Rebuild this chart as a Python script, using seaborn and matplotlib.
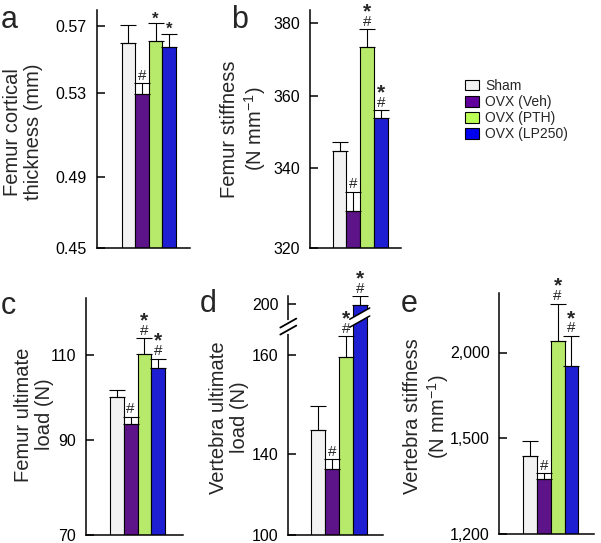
import numpy as np
import pandas as pd
import matplotlib
matplotlib.use("Agg")
import matplotlib.pyplot as plt
from matplotlib.patches import Patch, Polygon
from matplotlib.lines import Line2D
import seaborn as sns

# ---- data ----
groups = ["Sham", "OVX (Veh)", "OVX (PTH)", "OVX (LP250)"]
colors = ["#f2f2f2", "#62009d", "#bbff55", "#0000f0"]

cort_mean = [0.5597, 0.5297, 0.5609, 0.5577]
cort_sd = [0.0107, 0.0063, 0.0107, 0.0076]
fstiff_mean = [344.9, 329.3, 373.6, 353.8]
fstiff_sd = [2.5, 4.9, 4.7, 2.3]
fload_mean = [100.1, 93.8, 110.3, 107.0]
fload_sd = [1.6, 1.6, 3.6, 2.1]
vload_mean = [144.9, 132.9, 159.6, 198.7]
vload_sd = [4.7, 4.6, 14.7, 6.8]
vstiff_mean = [1443, 1370, 2065, 1918]
vstiff_sd = [47, 18, 223, 180]

hash_marks = {
    "a": [False, True, False, False],
    "b": [False, True, True, True],
    "c": [False, True, True, True],
    "d": [False, True, True, True],
    "e": [False, True, True, True],
}
star_marks = {
    "a": [False, False, True, True],
    "b": [False, False, True, True],
    "c": [False, False, True, True],
    "d": [False, False, True, True],
    "e": [False, False, True, True],
}

ticks_a = [0.45, 0.49, 0.53, 0.57]
ticks_b = [320, 340, 360, 380]
ticks_c = [70, 90, 110]
ticks_d = [100, 140, 160, 200]
ticks_e = [1200, 1500, 2000]

W, H = 601, 543
ROW2 = -2.5  # lift the bottom row a little so its lowest tick labels stay inside

sns.set_theme(style="ticks")
plt.rcParams["font.family"] = ["Liberation Sans", "DejaVu Sans"]
plt.rcParams["mathtext.fontset"] = "custom"
plt.rcParams["mathtext.rm"] = "Liberation Sans"

fig = plt.figure(figsize=(W / 100, H / 100), dpi=100)


def piecewise(vals, pos):
    # the original axes are not evenly spaced between ticks
    vals = np.asarray(vals, float)
    pos = np.asarray(pos, float)
    s0 = (pos[1] - pos[0]) / (vals[1] - vals[0])
    s1 = (pos[-1] - pos[-2]) / (vals[-1] - vals[-2])

    def fwd(v):
        v = np.asarray(v, float)
        return np.where(v < vals[0], pos[0] + (v - vals[0]) * s0,
                        np.where(v > vals[-1], pos[-1] + (v - vals[-1]) * s1,
                                 np.interp(v, vals, pos)))

    def inv(p):
        p = np.asarray(p, float)
        return np.where(p < pos[0], vals[0] + (p - pos[0]) / s0,
                        np.where(p > pos[-1], vals[-1] + (p - pos[-1]) / s1,
                                 np.interp(p, pos, vals)))
    return fwd, inv


def panel(letter, mean, sd, ticks, ticklabels, tick_px, box, bars_px, ylabel,
          label_px, letter_px, star_size=15, shift=0.0):
    L, R, T, B = box
    T, B = T + shift, B + shift
    tick_px = [p + shift for p in tick_px]
    label_px = (label_px[0], label_px[1] + shift)
    letter_px = (letter_px[0], letter_px[1] + shift)

    ax = fig.add_axes([L / W, 1 - B / H, (R - L) / W, (B - T) / H])
    fwd, inv = piecewise(ticks, [B - p for p in tick_px])
    ax.set_yscale("function", functions=(fwd, inv))

    df = pd.DataFrame({"group": groups, "value": mean})
    sns.barplot(data=df, x="group", y="value", hue="group", palette=colors,
                width=1.0, edgecolor="black", linewidth=0.8, errorbar=None,
                legend=False, ax=ax)
    x = np.arange(len(groups))
    ax.errorbar(x, mean, yerr=[np.zeros(len(sd)), sd], fmt="none",
                ecolor="black", elinewidth=0.8, capsize=6, capthick=0.8)

    bw = (bars_px[1] - bars_px[0]) / len(groups)
    ax.set_xlim(-0.5 - (bars_px[0] - L) / bw, len(groups) - 0.5 + (R - bars_px[1]) / bw)
    ax.set_ylim(ticks[0], float(inv(B - T)))
    ax.set_yticks(ticks)
    ax.set_yticklabels(ticklabels)
    ax.set_xticks([])
    ax.set_xlabel("")
    ax.set_ylabel(ylabel, fontsize=14.5, linespacing=1.15)
    ax.yaxis.set_label_coords((label_px[0] - L) / (R - L), (B - label_px[1]) / (B - T))
    ax.tick_params(axis="y", direction="in", length=6, width=1.1,
                   labelsize=11.5, pad=7, colors="black")
    for s in ["top", "right"]:
        ax.spines[s].set_visible(False)
    for s in ["left", "bottom"]:
        ax.spines[s].set_linewidth(1.1)
        ax.spines[s].set_color("black")

    for i in range(len(groups)):
        top = mean[i] + sd[i]
        if hash_marks[letter][i]:
            ax.annotate("#", (x[i], top), xytext=(0, 2.5), textcoords="offset points",
                        ha="center", va="baseline", fontsize=11)
        if star_marks[letter][i]:
            off = 8.5 if hash_marks[letter][i] else 0
            ax.annotate("*", (x[i], top), xytext=(0, off), textcoords="offset points",
                        ha="center", va="baseline", fontsize=star_size,
                        fontweight="bold")
    fig.text(letter_px[0] / W, 1 - letter_px[1] / H, letter, fontsize=22,
             ha="left", va="baseline")
    return ax


panel("a", cort_mean, cort_sd, ticks_a, ["0.45", "0.49", "0.53", "0.57"],
      [248, 177, 93.3, 26], (96.7, 190, 10, 248), (121.7, 176),
      "Femur cortical\nthickness (mm)", (43, 132), (1, 28), star_size=12)
panel("b", fstiff_mean, fstiff_sd, ticks_b, [str(t) for t in ticks_b],
      [248.3, 168.3, 96, 23.3], (310, 401, 10, 248.3), (332.7, 387.7),
      "Femur stiffness\n(N mm$^{-1}$)", (268, 129), (231, 28))
panel("c", fload_mean, fload_sd, ticks_c, [str(t) for t in ticks_c],
      [537.7, 442.3, 357.3], (86, 183, 300, 537.7), (110, 165),
      "Femur ultimate\nload (N)", (54, 417), (1, 317), shift=ROW2)
ax_d = panel("d", vload_mean, vload_sd, ticks_d, [str(t) for t in ticks_d],
             [537.7, 456.7, 357.3, 306], (288.3, 383, 298, 537.7), (311, 366.7),
             "Vertebra ultimate\nload (N)", (249, 420), (200, 315), shift=ROW2)
panel("e", vstiff_mean, vstiff_sd, ticks_e, ["{:,}".format(t) for t in ticks_e],
      [536, 440, 355], (499.3, 594, 295, 536), (523.3, 578.3),
      "Vertebra stiffness\n(N mm$^{-1}$)", (451, 419), (401, 315), shift=ROW2)

# axis break marks on panel d (spine and the tall LP250 bar)
axis_break, bar_break = 182, 189
fig.canvas.draw()
bx, by = ax_d.transData.transform((ax_d.get_xlim()[0], axis_break))
dx, dy = 8, 4.5
ax_d.add_line(Line2D([bx, bx], [by - 5, by + 5], transform=None, color="white",
                     lw=3, zorder=5, clip_on=False))
for off in (3.5, -3.5):
    ax_d.add_line(Line2D([bx - dx, bx + dx], [by + off - dy, by + off + dy],
                         transform=None, color="black", lw=1.3, zorder=6, clip_on=False))
cx, cy = ax_d.transData.transform((3, bar_break))
hw = 10
band = Polygon([[cx - hw, cy - 4 - dy * hw / dx], [cx + hw, cy - 4 + dy * hw / dx],
                [cx + hw, cy + 4 + dy * hw / dx], [cx - hw, cy + 4 - dy * hw / dx]],
               closed=True, transform=None, facecolor="white", edgecolor="none",
               zorder=5, clip_on=False)
ax_d.add_patch(band)
for off in (4, -4):
    ax_d.add_line(Line2D([cx - hw, cx + hw], [cy + off - dy * hw / dx, cy + off + dy * hw / dx],
                         transform=None, color="black", lw=1.1, zorder=6, clip_on=False))

handles = [Patch(facecolor=c, edgecolor="black", linewidth=0.8) for c in colors]
fig.legend(handles, groups, loc="upper left", bbox_to_anchor=(465 / W, 1 - 79 / H),
           frameon=False, fontsize=10, handlelength=1.0, handleheight=0.8,
           handletextpad=0.45, labelspacing=0.15, borderpad=0, borderaxespad=0)

fig.savefig("out.png", dpi=100)
